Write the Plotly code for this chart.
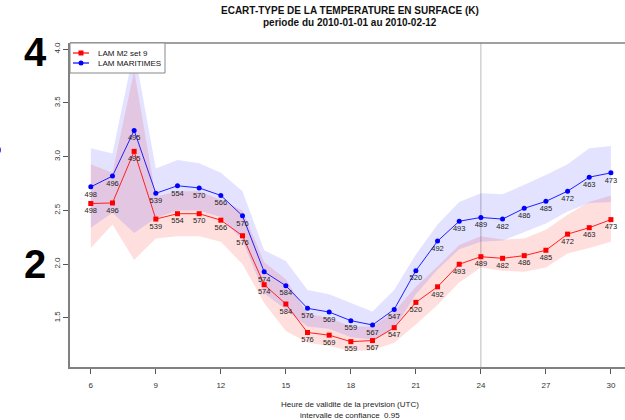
import plotly.graph_objects as go

# Forecast lead time (UTC hour)
hours = list(range(6, 31))

# Sample size at each lead time (printed under the points)
counts = [498, 496, 495, 539, 554, 570, 566, 576, 574, 584, 576, 569, 559,
          567, 547, 520, 492, 493, 489, 482, 486, 485, 472, 463, 473]

# LAM MARITIMES: standard deviation and 95% confidence bounds
mar_std = [2.72, 2.82, 3.245, 2.66, 2.73, 2.71, 2.64, 2.45, 1.93, 1.80, 1.59, 1.555, 1.475,
           1.435, 1.58, 1.94, 2.215, 2.40, 2.435, 2.42, 2.52, 2.585, 2.68, 2.81, 2.85]
mar_hi = [3.08, 3.03, 4.00, 2.89, 2.97, 2.94, 2.85, 2.68, 2.13, 2.03, 1.76, 1.72, 1.64,
          1.56, 1.76, 2.09, 2.37, 2.58, 2.66, 2.65, 2.74, 2.83, 2.93, 3.08, 3.10]
mar_lo = [2.34, 2.48, 2.29, 2.43, 2.50, 2.50, 2.44, 2.22, 1.73, 1.58, 1.42, 1.40, 1.32,
          1.30, 1.40, 1.72, 1.95, 2.14, 2.21, 2.22, 2.30, 2.38, 2.49, 2.57, 2.58]

# LAM M2 set 9: standard deviation and 95% confidence bounds
m2_std = [2.565, 2.57, 3.05, 2.42, 2.47, 2.47, 2.41, 2.265, 1.81, 1.63, 1.365, 1.34, 1.28,
          1.29, 1.41, 1.645, 1.79, 2.00, 2.07, 2.055, 2.08, 2.13, 2.28, 2.34, 2.415]
m2_hi = [2.93, 2.85, 3.80, 2.63, 2.68, 2.68, 2.60, 2.50, 2.02, 1.86, 1.54, 1.50, 1.42,
         1.42, 1.56, 1.79, 1.98, 2.18, 2.26, 2.23, 2.24, 2.32, 2.46, 2.58, 2.64]
m2_lo = [2.15, 2.37, 2.04, 2.24, 2.26, 2.26, 2.21, 2.00, 1.64, 1.38, 1.27, 1.24, 1.19,
         1.20, 1.27, 1.44, 1.62, 1.83, 1.97, 1.94, 1.93, 1.97, 2.10, 2.15, 2.21]

series_names = ["LAM M2 set 9", "LAM MARITIMES"]

x_ticks = [6, 9, 12, 15, 18, 21, 24, 27, 30]
y_ticks = [1.5, 2.0, 2.5, 3.0, 3.5, 4.0]
y_tick_text = ["1.5", "2.0", "2.5", "3.0", "3.5", "4.0"]

FONT = "Liberation Sans, Arial, Helvetica, sans-serif"
RED, BLUE = "#ff0000", "#0000ff"

# plot area in pixels (for converting legend positions to paper units)
L, R, T, B = 70, 625, 43, 367


def px(xp):
    return (xp - L) / (R - L)


def py(yp):
    return (B - yp) / (B - T)


fig = go.Figure()


def band(lo, hi, color):
    return go.Scatter(x=hours + hours[::-1], y=hi + lo[::-1], fill="toself",
                      fillcolor=color, line=dict(width=0), mode="lines",
                      hoverinfo="skip", showlegend=False)


fig.add_trace(band(m2_lo, m2_hi, "rgba(255,0,0,0.13)"))
fig.add_trace(band(mar_lo, mar_hi, "rgba(40,40,255,0.13)"))

fig.add_trace(go.Scatter(x=hours, y=m2_std, mode="lines+markers", name=series_names[0],
                         line=dict(color="#ff2020", width=1),
                         marker=dict(symbol="square", size=5, color=RED),
                         showlegend=False))
fig.add_trace(go.Scatter(x=hours, y=mar_std, mode="lines+markers", name=series_names[1],
                         line=dict(color="#2020ff", width=1),
                         marker=dict(symbol="circle", size=5, color=BLUE),
                         showlegend=False))

# Sample counts below every point (invisible markers push the text down)
for series in (m2_std, mar_std):
    fig.add_trace(go.Scatter(x=hours, y=series, mode="markers+text",
                             marker=dict(size=5, color="rgba(0,0,0,0)"),
                             text=[str(c) for c in counts], textposition="bottom center",
                             textfont=dict(size=7.5, color="#222", family=FONT),
                             showlegend=False, hoverinfo="skip"))

# 24 h reference line
fig.add_shape(type="line", xref="x", yref="paper", x0=24, x1=24, y0=0, y1=1,
              line=dict(color="#bbbbbb", width=1), layer="below")
# top frame line
fig.add_shape(type="line", xref="paper", yref="paper", x0=0, x1=1.02, y0=1, y1=1,
              line=dict(color="#808080", width=1.5))

# Legend box
fig.add_shape(type="rect", xref="paper", yref="paper",
              x0=px(70), x1=px(165), y0=py(73), y1=py(43),
              fillcolor="white", line=dict(color="#888", width=1))
for name, ly, col, sym in ((series_names[0], 53, RED, "rect"),
                           (series_names[1], 63, BLUE, "circle")):
    fig.add_shape(type="line", xref="paper", yref="paper",
                  x0=px(73), x1=px(89), y0=py(ly), y1=py(ly),
                  line=dict(color=col, width=1.2))
    fig.add_shape(type=sym, xref="paper", yref="paper",
                  x0=px(78.5), x1=px(83.5), y0=py(ly + 2.5), y1=py(ly - 2.5),
                  fillcolor=col, line=dict(width=0))
    fig.add_annotation(xref="paper", yref="paper", x=px(96), y=py(ly),
                       xanchor="left", yanchor="middle", text=name, showarrow=False,
                       font=dict(size=8, family=FONT, color="#111"))

# Headline
fig.add_annotation(xref="paper", yref="paper", x=0.505, y=1.0, yshift=33,
                   yanchor="middle",
                   text="<b>ECART-TYPE DE LA TEMPERATURE EN SURFACE (K)</b>",
                   showarrow=False, font=dict(size=10, family=FONT, color="#111"))
fig.add_annotation(xref="paper", yref="paper", x=0.505, y=1.0, yshift=21,
                   yanchor="middle",
                   text="<b>periode du 2010-01-01 au 2010-02-12</b>",
                   showarrow=False, font=dict(size=10, family=FONT, color="#111"))

# Axis caption
fig.add_annotation(xref="paper", yref="paper", x=0.505, y=0, yshift=-37,
                   yanchor="middle",
                   text="Heure de validite de la prevision (UTC)",
                   showarrow=False, font=dict(size=8, family=FONT, color="#222"))
fig.add_annotation(xref="paper", yref="paper", x=0.505, y=0, yshift=-48,
                   yanchor="middle",
                   text="intervalle de confiance  0.95",
                   showarrow=False, font=dict(size=8, family=FONT, color="#222"))

# Large panel markers at the left
fig.add_annotation(xref="paper", yref="y", x=-0.087, y=4.0, yshift=-3, text="<b>4</b>",
                   showarrow=False, font=dict(size=40, family=FONT, color="#000"))
fig.add_annotation(xref="paper", yref="y", x=-0.087, y=2.0, yshift=0, text="<b>2</b>",
                   showarrow=False, font=dict(size=40, family=FONT, color="#000"))
fig.add_shape(type="circle", xref="paper", yref="paper",
              x0=px(-7), x1=px(1), y0=py(154), y1=py(146),
              fillcolor="#3a3ae0", line=dict(width=0))

fig.update_layout(
    width=625, height=420,
    margin=dict(l=L, r=625 - R, t=T, b=420 - B),
    plot_bgcolor="white", paper_bgcolor="white",
    font=dict(family=FONT, size=8, color="#222"),
    showlegend=False,
    xaxis=dict(range=[5.04, 30.65], tickvals=x_ticks, ticks="outside", ticklen=5,
               tickcolor="#555", showgrid=False, zeroline=False,
               showline=True, linecolor="#808080", linewidth=1.5,
               tickfont=dict(size=8, color="#333"), ticklabelstandoff=5),
    yaxis=dict(range=[1.044, 4.058], tickvals=y_ticks, ticktext=y_tick_text,
               ticks="outside", ticklen=5, tickcolor="#555", tickangle=-90,
               showgrid=False, zeroline=False,
               showline=True, linecolor="#808080", linewidth=1.5,
               tickfont=dict(size=8, color="#333"), ticklabelstandoff=0),
)

fig.write_html("out.html")
